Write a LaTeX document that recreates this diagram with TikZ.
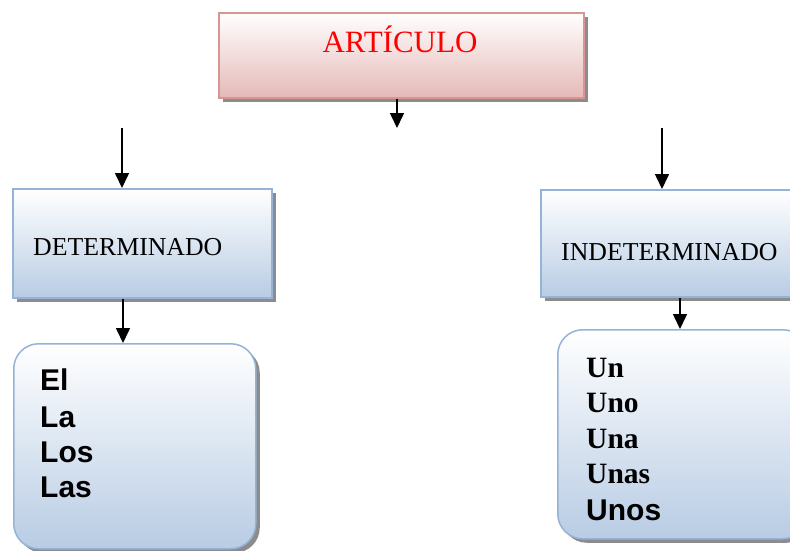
\documentclass[tikz,border=0pt]{standalone}
\usepackage{fontspec}
\setmainfont{Liberation Serif}
\setsansfont{Liberation Sans}
\usetikzlibrary{arrows.meta,shadows}
\definecolor{pinkedge}{HTML}{D99594}
\definecolor{pinkfill}{HTML}{E5B9B7}
\definecolor{blueedge}{HTML}{95B3D7}
\definecolor{bluefill}{HTML}{B8CCE4}
\definecolor{shadowgray}{HTML}{8C8C8C}
\begin{document}
\begin{tikzpicture}[x=1pt,y=-1pt,
  box/.style={draw, line width=1.5pt, inner sep=0pt, anchor=north west,
    general shadow={fill=shadowgray, shadow xshift=4pt, shadow yshift=-4pt}},
  pinkbox/.style={box, draw=pinkedge, top color=white, bottom color=pinkfill},
  bluebox/.style={box, draw=blueedge, top color=white, bottom color=bluefill},
  roundbox/.style={bluebox, rounded corners=25pt},
  arr/.style={line width=1.6pt, -{Triangle[length=15pt,width=14pt]}},
  lbl/.style={inner sep=0pt, anchor=base west},
  serword/.style={lbl, font=\fontsize{29.5}{34}\selectfont\bfseries},
  sansword/.style={lbl, font=\fontsize{30}{34}\selectfont\sffamily\bfseries}]
\clip (0,0) rectangle (790,550);
\fill[white] (0,0) rectangle (790,550);

\node[pinkbox, minimum width=365pt, minimum height=85pt] (art) at (218,12) {};
\node[bluebox, minimum width=259pt, minimum height=109pt] (det) at (12,188) {};
\node[bluebox, minimum width=270pt, minimum height=107pt] (indet) at (540,189) {};
\node[roundbox, minimum width=242pt, minimum height=205pt] (detlist) at (13,343) {};
\node[roundbox, minimum width=250pt, minimum height=209pt] (indetlist) at (557,329) {};

\node[inner sep=0pt, anchor=base, text=red, font=\fontsize{31}{37}\selectfont] (artt) at (400,52) {ARTÍCULO};
\node[lbl, font=\fontsize{25.8}{31}\selectfont] (dett) at (33,255) {DETERMINADO};
\node[lbl, font=\fontsize{25.8}{31}\selectfont] (indett) at (561,260) {INDETERMINADO};

\node[sansword] (w1) at (40,390) {El};
\node[sansword] (w2) at (40,427) {La};
\node[sansword] (w3) at (40,462) {Los};
\node[sansword] (w4) at (40,497) {Las};

\node[serword] (u1) at (586,377) {Un};
\node[serword] (u2) at (586,412) {Uno};
\node[serword] (u3) at (586,448) {Una};
\node[serword] (u4) at (586,483) {Unas};
\node[sansword] (u5) at (586,520) {Unos};

\coordinate (a) at (397,128);
\coordinate (l) at (122,128);
\coordinate (r) at (662,128);
\coordinate (dx) at (123,0);
\coordinate (ix) at (680,0);
\draw[arr] (a |- art.south) -- (a);
\draw[arr] (l) -- (l |- det.north);
\draw[arr] (r) -- (r |- indet.north);
\draw[arr] (dx |- det.south) -- (dx |- detlist.north);
\draw[arr] (ix |- indet.south) -- (ix |- indetlist.north);
\end{tikzpicture}
\end{document}
